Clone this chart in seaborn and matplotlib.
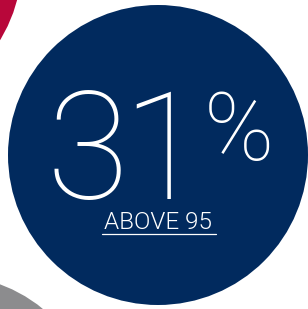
import matplotlib
matplotlib.use("Agg")
import matplotlib.pyplot as plt
from matplotlib.patches import Circle
import seaborn as sns
import pandas as pd

# the big stat and its label
stat_value = 31
stat_label = "ABOVE 95"

# circles making up the graphic (pixel coords, y down)
circle_names = ["red", "gray", "navy"]
circle_x = [-128, -52, 158]
circle_y = [-38, 425, 155]
circle_r = [150, 150, 150]
circle_colors = ["#b8073a", "#8c8c8e", "#012a5e"]

sns.set_theme(style="white")
plt.rcParams["font.family"] = ["Roboto", "DejaVu Sans"]

df = pd.DataFrame({"name": circle_names, "x": circle_x, "y": circle_y,
                   "r": circle_r, "color": circle_colors})

fig = plt.figure(figsize=(3.08, 3.09), dpi=100)
ax = fig.add_axes([0, 0, 1, 1])
ax.set_xlim(0, 308)
ax.set_ylim(309, 0)
ax.set_aspect("equal")
ax.axis("off")

for _, row in df.iterrows():
    ax.add_patch(Circle((row["x"], row["y"]), row["r"], color=row["color"], lw=0))

# digits drawn one by one, Roboto spaces them wider than the original
digits = str(stat_value)
ax.text(88, 199, digits[0], color="white", fontsize=108, fontweight=100,
        ha="center", va="baseline")
ax.text(204, 199, digits[1], color="white", fontsize=108, fontweight=100,
        ha="right", va="baseline")
ax.text(204, 160, "%", color="white", fontsize=68, fontweight=100,
        ha="left", va="baseline")

ax.text(158.5, 229, stat_label, color="white", fontsize=17.5, fontweight=300,
        ha="center", va="baseline")
ax.plot([102, 216], [234, 234], color="white", lw=0.9)

fig.savefig("out.png", dpi=100)
